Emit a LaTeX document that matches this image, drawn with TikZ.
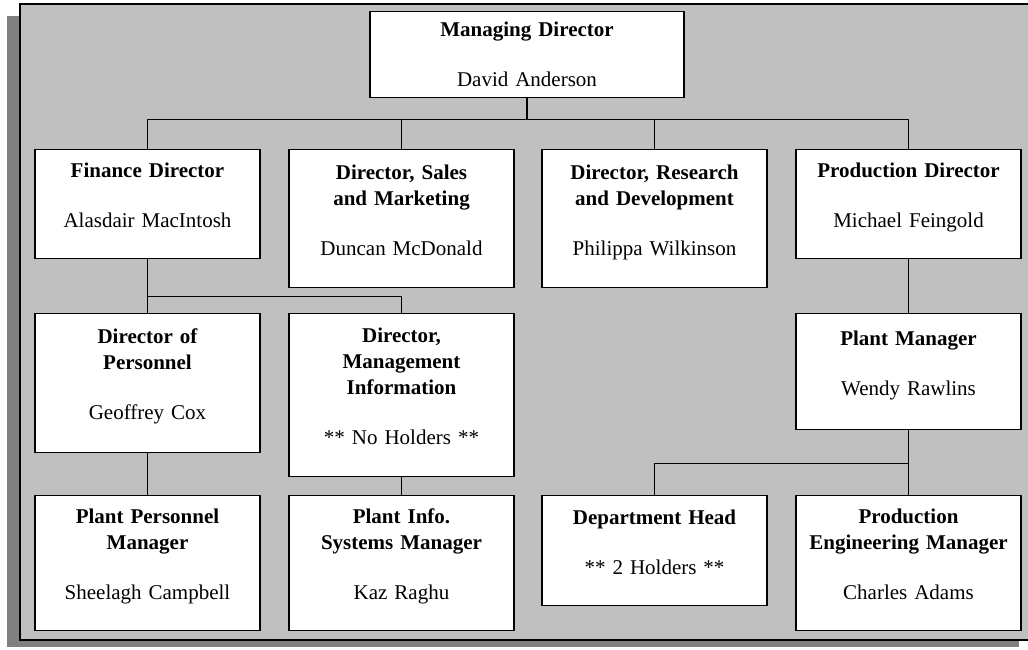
\documentclass[tikz,border=0pt]{standalone}
\usepackage{fontspec}
\setmainfont{Liberation Serif}
\usepackage{tikz}
\usetikzlibrary{positioning}
\definecolor{panelgray}{HTML}{C0C0C0}
\definecolor{shadowgray}{HTML}{808080}
\newcommand{\Post}[2]{\rule{0pt}{28pt}\textbf{#1}\\[24pt]#2\rule[-31pt]{0pt}{31pt}}

\begin{document}
\begin{tikzpicture}[
      x=1pt, y=1pt,
      post/.style={draw, line width=1.2pt, fill=white, inner sep=0pt, text width=225pt,
        align=center, anchor=north, font=\fontsize{21}{26}\selectfont},
      link/.style={line width=1.2pt},
    ]
    \useasboundingbox (0,0) rectangle (1028,-649);
    \fill[white] (0,0) rectangle (1028,-649);
    \fill[shadowgray] (7,-16) rectangle (1019,-647);
    \filldraw[fill=panelgray, line width=1.2pt] (20,-4) rectangle (1036,-640);

    \node[post, text width=314pt] (md) at (527,-11)
      {\rule{0pt}{25pt}\textbf{Managing Director}\\[24pt]David Anderson\rule[-11pt]{0pt}{11pt}};

    \node[post] (fin) at (147.5,-149) {\Post{Finance Director}{Alasdair MacIntosh}};
    \node[post, minimum height=138pt] (sales) at (401.5,-149) {\Post{Director, Sales\\and Marketing}{Duncan McDonald}};
    \node[post, minimum height=138pt] (rnd) at (654.5,-149) {\Post{Director, Research\\and Development}{Philippa Wilkinson}};
    \node[post] (prod) at (908.5,-149) {\Post{Production Director}{Michael Feingold}};

    \node[post, minimum height=139pt] (pers) at (147.5,-313) {\Post{Director of\\Personnel}{Geoffrey Cox}};
    \node[post, minimum height=163pt] (mis) at (401.5,-313) {\Post{Director,\\Management\\Information}{** No Holders **}};
    \node[post, minimum height=116pt] (plant) at (908.5,-313) {\Post{Plant Manager}{Wendy Rawlins}};

    \node[post, minimum height=134pt] (ppm) at (147.5,-495) {\Post{Plant Personnel\\Manager}{Sheelagh Campbell}};
    \node[post, minimum height=134pt] (pism) at (401.5,-495) {\Post{Plant Info.\\Systems Manager}{Kaz Raghu}};
    \node[post, minimum height=110pt] (dept) at (654.5,-495) {\Post{Department Head}{** 2 Holders **}};
    \node[post, minimum height=134pt] (pem) at (908.5,-495) {\Post{Production\\Engineering Manager}{Charles Adams}};

    \draw[link] (md.south) -- ++(0,-21) -| (fin.north);
    \draw[link] (md.south) -- ++(0,-21) -| (sales.north);
    \draw[link] (md.south) -- ++(0,-21) -| (rnd.north);
    \draw[link] (md.south) -- ++(0,-21) -| (prod.north);
    \draw[link] (fin.south) -- (pers.north);
    \draw[link] (fin.south) -- ++(0,-37) -| (mis.north);
    \draw[link] (prod.south) -- (plant.north);
    \draw[link] (pers.south) -- (ppm.north);
    \draw[link] (mis.south) -- (pism.north);
    \draw[link] (plant.south) -- (pem.north);
    \draw[link] (plant.south) -- ++(0,-33) -| (dept.north);
  \end{tikzpicture}
\end{document}
